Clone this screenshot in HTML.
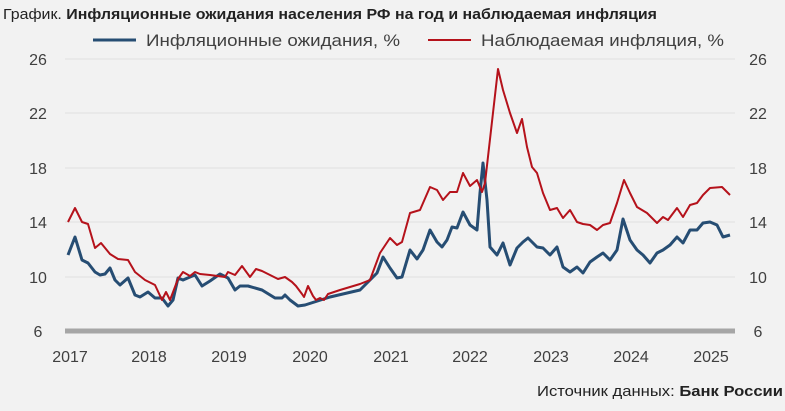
<!DOCTYPE html>
<html><head><meta charset="utf-8"><style>
body{margin:0;background:#f2f2f2;}
svg{display:block;font-family:"Liberation Sans",sans-serif;}
</style></head><body>
<svg width="785" height="411" viewBox="0 0 785 411" xmlns="http://www.w3.org/2000/svg">
<rect width="785" height="411" fill="#f2f2f2"/>
<text x="3" y="19" font-size="14.5" fill="#222" textLength="654" lengthAdjust="spacingAndGlyphs">График. <tspan font-weight="bold">Инфляционные ожидания населения РФ на год и наблюдаемая инфляция</tspan></text>
<line x1="93" y1="40" x2="136" y2="40" stroke="#264d73" stroke-width="3"/>
<text x="146" y="46" font-size="16.5" fill="#404040" textLength="254" lengthAdjust="spacingAndGlyphs">Инфляционные ожидания, %</text>
<line x1="428" y1="40" x2="471" y2="40" stroke="#b5121b" stroke-width="2"/>
<text x="481" y="46" font-size="16.5" fill="#404040" textLength="243" lengthAdjust="spacingAndGlyphs">Наблюдаемая инфляция, %</text>
<g stroke="#e0e0e0" stroke-width="1">
<line x1="65" y1="59" x2="735" y2="59"/><line x1="65" y1="113" x2="735" y2="113"/>
<line x1="65" y1="168" x2="735" y2="168"/><line x1="65" y1="222" x2="735" y2="222"/>
<line x1="65" y1="277" x2="735" y2="277"/></g>
<line x1="65" y1="331" x2="735" y2="331" stroke="#a6a6a6" stroke-width="5"/>
<g font-size="16" fill="#404040" text-anchor="middle">
<text x="38" y="65">26</text><text x="38" y="119">22</text><text x="38" y="174">18</text><text x="38" y="228">14</text><text x="38" y="283">10</text><text x="38" y="337">6</text>
<text x="758" y="65">26</text><text x="758" y="119">22</text><text x="758" y="174">18</text><text x="758" y="228">14</text><text x="758" y="283">10</text><text x="758" y="337">6</text>
<text x="70" y="362">2017</text><text x="149" y="362">2018</text><text x="229" y="362">2019</text><text x="310" y="362">2020</text><text x="391" y="362">2021</text><text x="470" y="362">2022</text><text x="551" y="362">2023</text><text x="631" y="362">2024</text><text x="711" y="362">2025</text>
</g>
<polyline fill="none" stroke="#264d73" stroke-width="3" stroke-linejoin="round" points="68,255 75,237 82,260 88,263 95,272 100,275 105,274 110,268 115,280 120,285 128,278 135,295 140,297 148,292 155,298 162,298 168,306 173,300 178,278 183,280 190,277 195,275 202,286 210,281 220,274 228,278 235,290 240,286 248,286 262,290 275,298 282,298 285,295 290,300 298,306 305,305 330,297 360,290 370,280 377,273 383,257 390,268 397,278 402,277 410,250 417,259 423,250 430,230 437,242 442,247 447,240 452,227 457,228 463,212 470,225 477,230 480,193 483,163 487,200 490,247 497,255 503,243 510,265 517,248 523,242 528,238 537,247 543,248 550,255 557,247 563,267 570,272 577,267 583,273 590,262 597,257 603,253 610,260 617,250 623,219 630,240 637,250 643,255 650,263 657,253 663,250 670,245 677,237 683,243 690,230 697,230 703,223 710,222 717,225 723,237 730,235"/>
<polyline fill="none" stroke="#b5121b" stroke-width="2" stroke-linejoin="round" points="68,222 75,208 82,222 88,224 95,248 101,243 110,254 118,259 128,260 135,272 145,280 155,285 162,300 166,292 170,300 178,279 183,272 190,276 195,272 200,274 210,275 225,277 228,272 235,275 242,266 250,277 256,269 262,271 270,275 278,279 285,277 292,282 296,286 302,294 304,297 308,286 313,296 316,300 320,298 324,300 328,294 340,290 360,284 370,280 380,253 390,238 397,245 402,242 410,213 420,210 430,187 437,190 443,200 450,192 457,192 463,173 470,186 477,180 482,192 485,183 498,69 503,90 510,113 517,133 522,119 527,147 532,167 537,173 543,193 550,210 557,208 563,218 570,210 577,222 583,224 590,225 597,230 603,225 610,223 617,203 624,180 630,193 637,207 647,213 657,223 663,217 668,220 677,208 683,217 690,205 697,203 703,195 710,188 722,187 730,195"/>
<text x="783" y="396" font-size="14.5" fill="#222" text-anchor="end" textLength="246" lengthAdjust="spacingAndGlyphs">Источник данных: <tspan font-weight="bold">Банк России</tspan></text>
</svg>
</body></html>
